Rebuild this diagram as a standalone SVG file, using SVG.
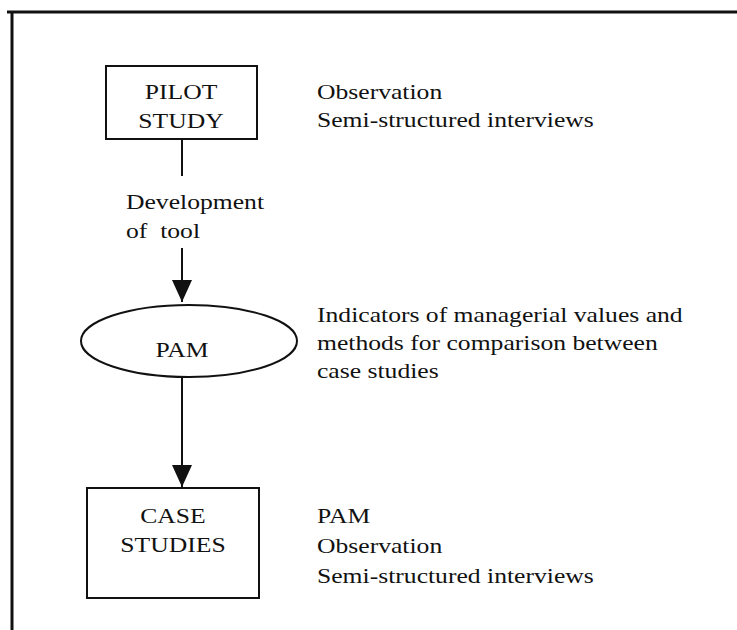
<svg xmlns="http://www.w3.org/2000/svg" width="737" height="630" viewBox="0 0 737 630">
  <style>
    .frame { fill: none; stroke: #111; stroke-width: 3; }
    .shape { fill: #fff; stroke: #111; stroke-width: 2; }
    .link { fill: none; stroke: #111; stroke-width: 2; }
    .head { fill: #111; stroke: none; }
    text { font-family: "Liberation Serif", "Times New Roman", serif; font-size: 22px; fill: #111; white-space: pre; }
    .mid { text-anchor: middle; }
  </style>
  <defs>
    <marker id="arrow" viewBox="0 0 22 20" refX="22" refY="10" markerWidth="22" markerHeight="20" markerUnits="userSpaceOnUse" orient="auto">
      <path class="head" d="M0,0 L22,10 L0,20 Z"/>
    </marker>
  </defs>

  <rect width="737" height="630" fill="#fff"/>

  <!-- outer frame: top and left edges only -->
  <path class="frame" d="M7,12 H737 M12,12 V630"/>

  <!-- connectors -->
  <g id="connectors">
    <line class="link" x1="182" y1="139" x2="182" y2="176"/>
    <line class="link" x1="182" y1="248" x2="182" y2="302" marker-end="url(#arrow)"/>
    <line class="link" x1="182" y1="377" x2="182" y2="487" marker-end="url(#arrow)"/>
    <text transform="translate(126,209) scale(1.165,1)">Development</text>
    <text transform="translate(126,238) scale(1.165,1)">of  tool</text>
  </g>

  <g id="pilot-study">
    <rect class="shape" x="106" y="66" width="151" height="73"/>
    <text class="mid" transform="translate(181,99) scale(1.165,1)">PILOT</text>
    <text class="mid" transform="translate(181,128) scale(1.165,1)">STUDY</text>
  </g>
  <g id="pilot-notes">
    <text transform="translate(317,99) scale(1.165,1)">Observation</text>
    <text transform="translate(317,127) scale(1.165,1)">Semi-structured interviews</text>
  </g>

  <g id="pam">
    <ellipse class="shape" cx="189" cy="341" rx="108" ry="36"/>
    <text class="mid" transform="translate(182,357) scale(1.165,1)">PAM</text>
  </g>
  <g id="pam-notes">
    <text transform="translate(317,322) scale(1.165,1)">Indicators of managerial values and</text>
    <text transform="translate(317,350) scale(1.165,1)">methods for comparison between</text>
    <text transform="translate(317,378) scale(1.165,1)">case studies</text>
  </g>

  <g id="case-studies">
    <rect class="shape" x="87" y="488" width="172" height="110"/>
    <text class="mid" transform="translate(173,523) scale(1.165,1)">CASE</text>
    <text class="mid" transform="translate(173,552) scale(1.165,1)">STUDIES</text>
  </g>
  <g id="case-notes">
    <text transform="translate(317,523) scale(1.165,1)">PAM</text>
    <text transform="translate(317,553) scale(1.165,1)">Observation</text>
    <text transform="translate(317,583) scale(1.165,1)">Semi-structured interviews</text>
  </g>
</svg>
